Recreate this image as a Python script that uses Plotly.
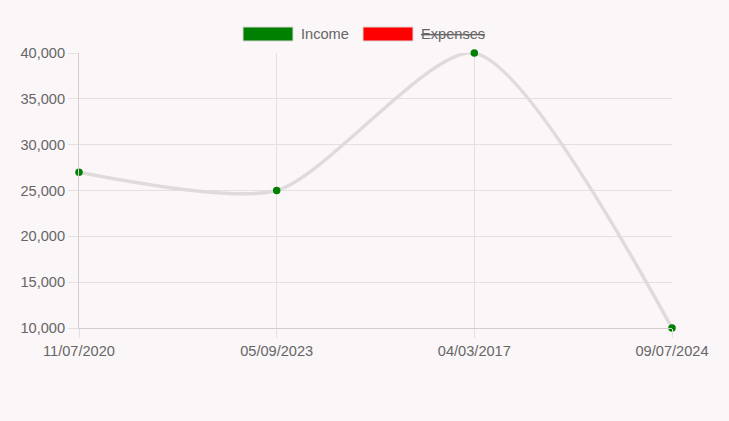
import plotly.graph_objects as go

# chart data
dates = ["11/07/2020", "05/09/2023", "04/03/2017", "09/07/2024"]
income = [27000, 25000, 40000, 10000]
legend_labels = ["Income", "Expenses"]
legend_colors = ["#008000", "#ff0000"]

W, H = 729, 421
L, R, T, B = 79, 57, 53, 93
bg = "#fbf6f8"
grid = "#e4dfe1"
font_c = "#666666"
fs = 14.6


def px_x(p):
    return (p - L) / (W - L - R)


def px_y(p):
    return (H - B - p) / (H - T - B)


fig = go.Figure()
fig.add_trace(go.Scatter(
    x=dates, y=income, mode="lines+markers",
    line=dict(color="#e0dbdb", width=3.5, shape="spline", smoothing=0.7),
    marker=dict(color="#008000", size=7.5),
    cliponaxis=False, showlegend=False, hoverinfo="x+y",
))

# manual legend, Chart.js style (hidden dataset struck through)
shapes = []
annotations = []
box_x = [243, 363]
for i, lab in enumerate(legend_labels):
    x0 = box_x[i]
    shapes.append(dict(
        type="rect", xref="paper", yref="paper",
        x0=px_x(x0), x1=px_x(x0 + 50), y0=px_y(41), y1=px_y(27),
        fillcolor=legend_colors[i], line=dict(color="#dcd6d6", width=1),
    ))
    text = lab if i == 0 else f"<s>{lab}</s>"
    annotations.append(dict(
        xref="paper", yref="paper", x=px_x(x0 + 56), y=px_y(34),
        xanchor="left", yanchor="middle", text=text, showarrow=False,
        font=dict(size=fs, color=font_c, family="Liberation Sans"),
    ))

fig.update_layout(
    width=W, height=H,
    paper_bgcolor=bg, plot_bgcolor=bg,
    margin=dict(l=L, r=R, t=T, b=B),
    font=dict(family="Liberation Sans", size=fs, color=font_c),
    shapes=shapes, annotations=annotations,
    showlegend=False,
    xaxis=dict(
        type="category", range=[0, 3], showgrid=True, gridcolor=grid,
        showline=True, linecolor="#d3cdcf", ticks="outside", ticklen=9,
        tickcolor=grid, zeroline=False, tickfont=dict(size=fs),
    ),
    yaxis=dict(
        range=[10000, 40000], dtick=5000, tickformat=",", showgrid=True,
        gridcolor=grid, showline=True, linecolor="#d3cdcf", ticks="outside",
        ticklen=10, tickcolor=grid, zeroline=False, tickfont=dict(size=fs),
    ),
)

# drop the default page margin so the figure sits at the window origin
fig.write_html("out.html", config={"displayModeBar": False},
               post_script="document.body.style.margin='0';")
